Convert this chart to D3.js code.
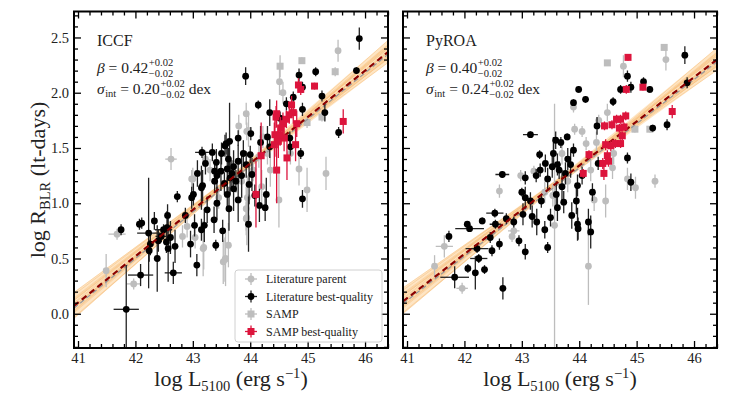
<!DOCTYPE html>
<html>
<head>
<meta charset="utf-8">
<script src="https://cdn.jsdelivr.net/npm/d3@7"></script>
<style>
  body { margin: 0; background: #fff; }
  svg { font-family: "Liberation Serif", "DejaVu Serif", serif; }
  text { white-space: pre; }
</style>
</head>
<body>
<svg id="chart" width="739" height="394"></svg>
<script>
// ---- data: [log L5100, log R, err L, err R] ----
const panelNames = ['ICCF', 'PyROA'];
const betaVals = ['0.42', '0.40'];
const sigmaVals = ['0.20', '0.24'];
const fitSlope = [0.42, 0.40];
const fitK = [1.36, 1.34];            // log R at log L = 44
const xMajor = [41, 42, 43, 44, 45, 46];
const yMajor = [0, 0.5, 1, 1.5, 2, 2.5];
const legendLabels = ['Literature parent', 'Literature best-quality', 'SAMP', 'SAMP best-quality'];

// posterior draws of the fit (slope, intercept at 44)
const iccfDrawSlope = [0.40, 0.41, 0.42, 0.43, 0.44, 0.39, 0.45, 0.42, 0.41, 0.43, 0.40, 0.44, 0.42, 0.38, 0.46, 0.41, 0.43, 0.42, 0.40, 0.44];
const iccfDrawK = [1.37, 1.35, 1.36, 1.38, 1.36, 1.37, 1.35, 1.34, 1.38, 1.35, 1.36, 1.37, 1.39, 1.36, 1.37, 1.33, 1.37, 1.36, 1.35, 1.38];
const pyroaDrawSlope = [0.38, 0.39, 0.40, 0.41, 0.42, 0.37, 0.43, 0.40, 0.39, 0.41, 0.38, 0.42, 0.40, 0.36, 0.44, 0.39, 0.41, 0.40, 0.38, 0.42];
const pyroaDrawK = [1.35, 1.33, 1.34, 1.36, 1.34, 1.35, 1.33, 1.32, 1.36, 1.33, 1.34, 1.35, 1.37, 1.34, 1.35, 1.31, 1.35, 1.34, 1.33, 1.36];

const iccfParent = [
  [45.53, 2.38, 0.02, 0.10], [44.51, 2.10, 0.02, 0.12], [44.57, 2.00, 0.02, 0.10],
  [43.93, 1.81, 0.02, 0.10], [43.94, 1.65, 0.02, 0.08], [43.97, 1.66, 0.02, 0.15],
  [42.62, 1.40, 0.10, 0.10], [43.22, 1.40, 0.02, 0.08], [42.98, 1.22, 0.02, 0.08],
  [41.68, 0.72, 0.15, 0.05], [41.49, 0.39, 0.03, 0.15], [41.97, 0.27, 0.12, 0.05],
  [43.04, 0.69, 0.02, 0.10], [43.19, 0.60, 0.02, 0.20], [42.90, 0.79, 0.05, 0.10],
  [43.57, 0.50, 0.05, 0.25], [43.53, 0.47, 0.02, 0.20], [43.93, 0.95, 0.02, 0.20],
  [43.93, 0.86, 0.02, 0.15], [44.50, 1.03, 0.02, 0.25], [44.99, 1.12, 0.02, 0.20],
  [45.32, 1.27, 0.02, 0.15], [44.85, 1.31, 0.02, 0.15], [44.35, 1.30, 0.02, 0.15],
  [44.15, 1.42, 0.02, 0.10], [43.94, 0.87, 0.02, 0.25], [43.18, 0.59, 0.02, 0.25],
  [43.56, 0.49, 0.02, 0.20], [43.70, 1.25, 0.02, 0.10], [43.85, 1.20, 0.02, 0.15],
  [44.05, 1.30, 0.02, 0.10], [43.95, 1.05, 0.02, 0.20], [44.20, 1.15, 0.02, 0.15],
  [43.30, 1.30, 0.02, 0.10], [43.45, 1.05, 0.02, 0.10], [43.00, 1.22, 0.02, 0.10],
  [42.82, 0.70, 0.02, 0.10], [43.62, 0.62, 0.02, 0.20], [44.30, 1.45, 0.02, 0.10],
  [44.70, 1.45, 0.02, 0.10], [44.22, 1.60, 0.02, 0.10], [43.80, 1.70, 0.02, 0.10]
];
const iccfSamp = [
  [44.90, 2.29, 0.02, 0.03], [44.52, 2.24, 0.02, 0.10], [45.48, 2.19, 0.02, 0.04],
  [45.25, 1.78, 0.02, 0.04], [44.99, 1.73, 0.02, 0.05]
];
const iccfBest = [
  [45.90, 2.49, 0.02, 0.10], [45.85, 2.20, 0.02, 0.03], [43.92, 2.15, 0.02, 0.08],
  [45.14, 2.19, 0.02, 0.04], [44.85, 2.16, 0.02, 0.06], [44.91, 2.05, 0.02, 0.05],
  [45.25, 1.97, 0.02, 0.05], [44.75, 1.96, 0.02, 0.05], [44.14, 1.89, 0.02, 0.04],
  [44.63, 1.90, 0.02, 0.06], [44.91, 1.85, 0.02, 0.06], [44.34, 1.82, 0.02, 0.12],
  [45.30, 1.82, 0.02, 0.08], [44.52, 1.77, 0.02, 0.06], [45.54, 1.64, 0.02, 0.05],
  [44.01, 1.63, 0.02, 0.06], [43.79, 1.59, 0.02, 0.07], [44.69, 1.59, 0.02, 0.06],
  [44.70, 1.51, 0.02, 0.08], [43.64, 1.56, 0.02, 0.35], [43.56, 1.52, 0.02, 0.10],
  [44.88, 1.45, 0.02, 0.05], [43.34, 1.46, 0.03, 0.08], [43.16, 1.46, 0.12, 0.05],
  [43.50, 1.45, 0.02, 0.10], [43.41, 1.37, 0.02, 0.12], [43.79, 1.38, 0.02, 0.15],
  [44.00, 1.44, 0.02, 0.08], [43.93, 1.35, 0.02, 0.12], [43.71, 1.33, 0.02, 0.15],
  [43.60, 1.31, 0.02, 0.20], [43.08, 1.27, 0.02, 0.12], [43.49, 1.29, 0.02, 0.18],
  [43.38, 1.29, 0.02, 0.10], [43.15, 1.14, 0.02, 0.20], [43.17, 1.16, 0.02, 0.14],
  [43.01, 1.08, 0.05, 0.10], [43.42, 1.25, 0.02, 0.15], [43.65, 1.23, 0.02, 0.15],
  [43.85, 1.25, 0.02, 0.20], [44.03, 1.26, 0.02, 0.15], [43.98, 1.17, 0.02, 0.18],
  [43.71, 1.13, 0.02, 0.20], [43.60, 1.08, 0.02, 0.15], [43.79, 1.03, 0.02, 0.20],
  [43.42, 1.00, 0.02, 0.15], [43.25, 0.94, 0.02, 0.12], [43.20, 0.80, 0.02, 0.15],
  [42.96, 0.63, 0.03, 0.12], [42.73, 1.06, 0.05, 0.05], [42.56, 0.89, 0.02, 0.10],
  [42.61, 0.69, 0.02, 0.15], [42.33, 0.84, 0.05, 0.08], [42.38, 0.50, 0.05, 0.30],
  [43.40, 0.62, 0.02, 0.05], [43.07, 0.44, 0.03, 0.10], [44.28, 1.08, 0.02, 0.15],
  [43.97, 0.81, 0.02, 0.25], [43.63, 0.95, 0.02, 0.20], [43.37, 0.85, 0.02, 0.12],
  [43.03, 0.80, 0.02, 0.10], [42.98, 1.05, 0.03, 0.10], [42.87, 0.89, 0.02, 0.07],
  [43.15, 0.76, 0.02, 0.10], [43.52, 0.75, 0.02, 0.10], [42.69, 0.61, 0.02, 0.15],
  [42.11, 0.82, 0.05, 0.05], [42.07, 0.81, 0.03, 0.05], [41.75, 0.76, 0.03, 0.05],
  [42.23, 0.73, 0.20, 0.50], [42.26, 0.63, 0.05, 0.10], [42.49, 0.76, 0.15, 0.05],
  [42.54, 0.65, 0.02, 0.10], [42.24, 0.57, 0.02, 0.10], [42.57, 0.59, 0.02, 0.30],
  [42.66, 0.37, 0.15, 0.10], [42.09, 0.35, 0.22, 0.10], [41.84, 0.04, 0.22, 0.40],
  [44.08, 1.07, 0.02, 0.10], [44.26, 0.96, 0.05, 0.12], [44.16, 0.98, 0.02, 0.15],
  [44.91, 1.04, 0.02, 0.08], [43.62, 1.40, 0.02, 0.10], [43.68, 1.27, 0.02, 0.12],
  [43.55, 1.18, 0.02, 0.10], [43.75, 1.20, 0.02, 0.10], [43.38, 1.20, 0.02, 0.10],
  [43.22, 1.36, 0.02, 0.10], [43.88, 1.45, 0.02, 0.12], [44.18, 1.55, 0.02, 0.15],
  [44.30, 1.60, 0.02, 0.10], [44.34, 1.51, 0.02, 0.10], [43.58, 1.54, 0.02, 0.10],
  [42.45, 0.70, 0.10, 0.05], [42.40, 0.66, 0.02, 0.10], [42.55, 0.78, 0.02, 0.15]
];
const iccfSampBest = [
  [44.84, 2.07, 0.02, 0.06], [44.88, 2.03, 0.02, 0.05], [45.12, 2.06, 0.02, 0.03],
  [44.72, 1.89, 0.02, 0.08], [44.46, 1.81, 0.02, 0.12], [44.45, 1.78, 0.02, 0.10],
  [44.75, 1.82, 0.02, 0.10], [44.63, 1.76, 0.02, 0.08], [44.81, 1.72, 0.02, 0.12],
  [44.57, 1.72, 0.02, 0.10], [44.53, 1.68, 0.02, 0.10], [44.43, 1.62, 0.02, 0.20],
  [44.59, 1.59, 0.02, 0.12], [44.49, 1.56, 0.02, 0.15], [44.79, 1.53, 0.02, 0.15],
  [44.42, 1.53, 0.02, 0.20], [44.64, 1.41, 0.02, 0.20], [44.19, 1.43, 0.02, 0.30],
  [44.46, 1.30, 0.02, 0.30], [44.10, 1.08, 0.02, 0.30], [45.62, 1.74, 0.02, 0.11],
  [44.68, 1.80, 0.02, 0.08], [44.52, 1.62, 0.02, 0.10]
];

const pyroaParent = [
  [44.77, 2.24, 0.02, 0.10], [45.51, 2.30, 0.02, 0.10], [43.90, 1.87, 0.02, 0.05],
  [44.49, 1.82, 0.02, 0.08], [43.92, 1.67, 0.02, 0.05], [44.05, 1.65, 0.02, 0.05],
  [44.34, 1.75, 0.02, 0.05], [44.12, 1.54, 0.02, 0.06], [43.21, 1.29, 0.02, 0.05],
  [42.98, 1.25, 0.02, 0.05], [42.61, 1.11, 0.02, 0.06], [43.54, 1.07, 0.02, 0.10],
  [44.26, 1.03, 0.02, 0.10], [44.46, 1.02, 0.02, 0.15], [44.58, 1.32, 0.02, 0.10],
  [44.84, 1.22, 0.02, 0.10], [44.98, 1.14, 0.02, 0.10], [45.32, 1.20, 0.02, 0.06],
  [42.86, 0.75, 0.10, 0.05], [42.83, 0.70, 0.02, 0.05], [41.65, 0.61, 0.15, 0.10],
  [41.48, 0.43, 0.02, 0.10], [41.96, 0.23, 0.10, 0.05], [44.16, 0.43, 0.02, 0.35],
  [43.57, 0.80, 0.02, 1.10], [43.70, 1.45, 0.02, 0.10], [43.80, 1.20, 0.02, 0.10],
  [44.20, 1.30, 0.02, 0.10], [43.40, 1.10, 0.02, 0.10], [44.60, 1.45, 0.02, 0.10],
  [44.30, 1.55, 0.02, 0.10]
];
const pyroaSamp = [
  [44.49, 2.27, 0.02, 0.02], [45.48, 2.41, 0.02, 0.02], [44.97, 1.67, 0.02, 0.03],
  [45.23, 1.67, 0.02, 0.03]
];
const pyroaBest = [
  [45.84, 2.34, 0.02, 0.08], [45.88, 2.09, 0.02, 0.05], [44.84, 2.15, 0.02, 0.05],
  [44.72, 2.03, 0.02, 0.04], [44.90, 2.05, 0.02, 0.05], [45.12, 2.10, 0.02, 0.04],
  [45.23, 2.03, 0.02, 0.03], [43.99, 2.03, 0.02, 0.03], [43.90, 1.91, 0.02, 0.03],
  [44.11, 1.94, 0.02, 0.03], [44.59, 1.92, 0.02, 0.04], [44.31, 1.70, 0.02, 0.08],
  [45.28, 1.68, 0.02, 0.03], [45.53, 1.71, 0.02, 0.05], [43.15, 1.62, 0.13, 0.03],
  [43.79, 1.60, 0.02, 0.03], [43.59, 1.57, 0.02, 0.08], [43.68, 1.55, 0.02, 0.05],
  [43.90, 1.48, 0.02, 0.06], [43.31, 1.44, 0.02, 0.04], [43.55, 1.45, 0.02, 0.15],
  [44.84, 1.41, 0.02, 0.05], [44.33, 1.36, 0.02, 0.06], [43.41, 1.36, 0.02, 0.08],
  [43.53, 1.33, 0.02, 0.10], [43.32, 1.30, 0.02, 0.06], [42.66, 1.26, 0.12, 0.03],
  [43.76, 1.27, 0.02, 0.10], [43.65, 1.30, 0.02, 0.08], [43.85, 1.35, 0.02, 0.12],
  [43.97, 1.16, 0.02, 0.10], [44.23, 1.10, 0.02, 0.08], [43.06, 1.23, 0.02, 0.06],
  [43.25, 1.25, 0.02, 0.06], [43.45, 1.22, 0.02, 0.10], [43.00, 1.10, 0.02, 0.04],
  [43.06, 1.05, 0.02, 0.10], [43.15, 1.02, 0.02, 0.08], [43.34, 1.02, 0.02, 0.06],
  [43.60, 1.08, 0.02, 0.12], [43.70, 1.15, 0.02, 0.15], [43.62, 0.96, 0.02, 0.12],
  [43.73, 1.01, 0.02, 0.10], [43.87, 0.89, 0.02, 0.12], [43.97, 0.81, 0.02, 0.15],
  [44.16, 0.83, 0.02, 0.12], [43.98, 0.77, 0.02, 0.10], [44.20, 0.74, 0.02, 0.15],
  [43.50, 0.87, 0.02, 0.08], [43.26, 0.83, 0.02, 0.12], [43.40, 0.76, 0.02, 0.08],
  [43.45, 0.60, 0.02, 0.05], [42.95, 0.66, 0.04, 0.05], [43.06, 0.56, 0.02, 0.07],
  [43.02, 0.90, 0.02, 0.10], [43.18, 0.88, 0.02, 0.10], [42.86, 0.83, 0.02, 0.05],
  [42.73, 0.86, 0.05, 0.05], [42.53, 0.91, 0.15, 0.04], [42.54, 0.81, 0.10, 0.04],
  [42.31, 0.84, 0.05, 0.03], [42.05, 0.81, 0.02, 0.03], [42.09, 0.77, 0.25, 0.03],
  [41.73, 0.70, 0.02, 0.05], [42.45, 0.69, 0.02, 0.05], [42.61, 0.63, 0.02, 0.05],
  [42.48, 0.57, 0.05, 0.05], [42.22, 0.59, 0.20, 0.04], [42.25, 0.50, 0.15, 0.04],
  [42.06, 0.41, 0.02, 0.04], [42.35, 0.40, 0.05, 0.04], [42.19, 0.37, 0.02, 0.15],
  [41.83, 0.33, 0.25, 0.10], [42.67, 0.23, 0.02, 0.10], [44.90, 1.19, 0.02, 0.08],
  [43.80, 1.40, 0.02, 0.10], [43.62, 1.35, 0.02, 0.10], [44.05, 1.25, 0.02, 0.08],
  [43.95, 1.02, 0.02, 0.12]
];
const pyroaSampBest = [
  [44.85, 2.32, 0.02, 0.03], [44.82, 2.03, 0.02, 0.04], [45.11, 2.05, 0.02, 0.03],
  [45.62, 1.83, 0.02, 0.06], [44.44, 1.70, 0.02, 0.04], [44.57, 1.71, 0.02, 0.04],
  [44.65, 1.76, 0.02, 0.04], [44.72, 1.76, 0.02, 0.04], [44.81, 1.79, 0.02, 0.04],
  [44.70, 1.68, 0.02, 0.04], [44.78, 1.69, 0.02, 0.04], [44.75, 1.61, 0.02, 0.04],
  [44.46, 1.53, 0.02, 0.05], [44.55, 1.52, 0.02, 0.05], [44.63, 1.54, 0.02, 0.04],
  [44.72, 1.54, 0.02, 0.04], [44.17, 1.44, 0.02, 0.04], [44.49, 1.43, 0.02, 0.05],
  [44.51, 1.38, 0.02, 0.05], [44.41, 1.36, 0.02, 0.05], [44.07, 1.27, 0.02, 0.04],
  [44.43, 1.27, 0.02, 0.06]
];

const panels = [
  {parent: iccfParent, samp: iccfSamp, best: iccfBest, sampBest: iccfSampBest,
   drawSlope: iccfDrawSlope, drawK: iccfDrawK},
  {parent: pyroaParent, samp: pyroaSamp, best: pyroaBest, sampBest: pyroaSampBest,
   drawSlope: pyroaDrawSlope, drawK: pyroaDrawK}
];

// ---- layout ----
const panelLeft = [74, 403];
const plotTop = 11.5, plotW = 314, plotH = 336.5;
const grey = '#bdbdbd', red = '#dc143c';

const svg = d3.select('#chart');
const x = d3.scaleLinear().domain([40.93, 46.4]).range([0, plotW]);
const y = d3.scaleLinear().domain([-0.31, 2.735]).range([plotH, 0]);

svg.append('defs').append('clipPath').attr('id', 'clip')
   .append('rect').attr('width', plotW).attr('height', plotH);

function drawSet(g, pts, fill, barColor, shape) {
  const s = g.append('g');
  s.selectAll('line.h').data(pts).join('line')
   .attr('x1', d => x(d[0] - d[2])).attr('x2', d => x(d[0] + d[2]))
   .attr('y1', d => y(d[1])).attr('y2', d => y(d[1]))
   .attr('stroke', barColor).attr('stroke-width', 1.3);
  s.selectAll('line.v').data(pts).join('line')
   .attr('x1', d => x(d[0])).attr('x2', d => x(d[0]))
   .attr('y1', d => y(d[1] - d[3])).attr('y2', d => y(d[1] + d[3]))
   .attr('stroke', barColor).attr('stroke-width', 1.3);
  if (shape === 'circle') {
    s.selectAll('circle').data(pts).join('circle')
     .attr('cx', d => x(d[0])).attr('cy', d => y(d[1])).attr('r', 3.4)
     .attr('fill', fill);
  } else {
    s.selectAll('rect').data(pts).join('rect')
     .attr('x', d => x(d[0]) - 3.5).attr('y', d => y(d[1]) - 3.5)
     .attr('width', 7).attr('height', 7).attr('fill', fill);
  }
}

function styleAxis(a, size) {
  a.select('.domain').remove();
  a.attr('font-family', null);
  a.selectAll('line').attr('stroke', '#000').attr('stroke-width', 1.3);
  a.selectAll('text').attr('font-family', '"Liberation Serif", serif')
   .attr('font-size', size).attr('fill', '#222');
}

function putText(g, x0, yb, str, size, italic) {
  const t = g.append('text').attr('x', x0).attr('y', yb).attr('font-size', size)
             .attr('fill', '#222').text(str);
  if (italic) t.attr('font-style', 'italic');
  return x0 + t.node().getComputedTextLength();
}

function putErr(g, x0, yb, size) {
  const w1 = putText(g, x0, yb - 6.5, '+0.02', size * 0.68);
  const w2 = putText(g, x0, yb + 4, '\u22120.02', size * 0.68);
  return Math.max(w1, w2);
}

const xMinor = d3.range(41, 46.41, 0.2).filter(v => Math.abs(v - Math.round(v)) > 0.01);
const yMinor = d3.range(-3, 28).map(i => i / 10).filter(v => Math.abs(v * 2 - Math.round(v * 2)) > 0.01);

panels.forEach((p, i) => {
  const g = svg.append('g').attr('transform', `translate(${panelLeft[i]},${plotTop})`);
  const plot = g.append('g').attr('clip-path', 'url(#clip)');

  // posterior band
  const ends = x.domain();
  const lo = ends.map(l => d3.min(p.drawSlope, (b, k) => p.drawK[k] + b * (l - 44)));
  const hi = ends.map(l => d3.max(p.drawSlope, (b, k) => p.drawK[k] + b * (l - 44)));
  const mid = [43.6];
  const loMid = d3.min(p.drawSlope, (b, k) => p.drawK[k] + b * (mid[0] - 44));
  const hiMid = d3.max(p.drawSlope, (b, k) => p.drawK[k] + b * (mid[0] - 44));
  const poly = [[ends[0], lo[0]], [mid[0], loMid], [ends[1], lo[1]],
                [ends[1], hi[1]], [mid[0], hiMid], [ends[0], hi[0]]];
  plot.append('path')
      .attr('d', d3.line().x(d => x(d[0])).y(d => y(d[1]))(poly) + 'Z')
      .attr('fill', '#fddcb0').attr('opacity', 0.75);
  plot.selectAll('line.draw').data(p.drawSlope).join('line')
      .attr('x1', x(ends[0])).attr('x2', x(ends[1]))
      .attr('y1', (b, k) => y(p.drawK[k] + b * (ends[0] - 44)))
      .attr('y2', (b, k) => y(p.drawK[k] + b * (ends[1] - 44)))
      .attr('stroke', '#f7bf7c').attr('stroke-width', 0.8).attr('opacity', 0.6);

  drawSet(plot, p.parent, grey, grey, 'circle');
  drawSet(plot, p.samp, grey, grey, 'square');

  // fit lines
  const fit = l => fitK[i] + fitSlope[i] * (l - 44);
  plot.append('line')
      .attr('x1', x(ends[0])).attr('x2', x(ends[1]))
      .attr('y1', y(fit(ends[0]) - 0.02)).attr('y2', y(fit(ends[1]) - 0.02))
      .attr('stroke', '#9a9a9a').attr('stroke-width', 1.3).attr('stroke-dasharray', '5,3');

  drawSet(plot, p.best, '#000', '#222', 'circle');

  plot.append('line')
      .attr('x1', x(ends[0])).attr('x2', x(ends[1]))
      .attr('y1', y(fit(ends[0]))).attr('y2', y(fit(ends[1])))
      .attr('stroke', '#8b0000').attr('stroke-width', 2.2).attr('stroke-dasharray', '6,4');

  drawSet(plot, p.sampBest, red, red, 'square');

  // axes with inward ticks on all sides
  const ax = [
    [d3.axisBottom(x).tickValues(xMajor).tickSize(-7).tickPadding(5).tickFormat(d3.format('d')), `translate(0,${plotH})`, 14.5],
    [d3.axisBottom(x).tickValues(xMinor).tickSize(-4).tickFormat(''), `translate(0,${plotH})`],
    [d3.axisTop(x).tickValues(xMajor).tickSize(-7).tickFormat(''), null],
    [d3.axisTop(x).tickValues(xMinor).tickSize(-4).tickFormat(''), null],
    [d3.axisLeft(y).tickValues(yMajor).tickSize(-7).tickPadding(5)
       .tickFormat(i === 0 ? d3.format('.1f') : ''), null, 14.5],
    [d3.axisLeft(y).tickValues(yMinor).tickSize(-4).tickFormat(''), null],
    [d3.axisRight(y).tickValues(yMajor).tickSize(-7).tickFormat(''), `translate(${plotW},0)`],
    [d3.axisRight(y).tickValues(yMinor).tickSize(-4).tickFormat(''), `translate(${plotW},0)`]
  ];
  ax.forEach(([a, tr, size]) => {
    const ag = g.append('g');
    if (tr) ag.attr('transform', tr);
    ag.call(a);
    styleAxis(ag, size || 10);
  });

  g.append('rect').attr('width', plotW).attr('height', plotH)
   .attr('fill', 'none').attr('stroke', '#000').attr('stroke-width', 2);

  // annotations
  const tx = 23;
  putText(g, tx, 34, panelNames[i], 16);
  let cx = putText(g, tx, 61, '\u03b2', 15.5, true);
  cx = putText(g, cx, 61, ' = ' + betaVals[i], 15.5);
  putErr(g, cx + 0.5, 61, 15.5);
  cx = putText(g, tx, 82, '\u03c3', 15.5, true);
  cx = putText(g, cx + 0.5, 85.5, 'int', 10.5);
  cx = putText(g, cx, 82, ' = ' + sigmaVals[i], 15.5);
  cx = putErr(g, cx + 0.5, 82, 15.5);
  putText(g, cx, 82, ' dex', 15.5);

  // x label
  const xl = g.append('text').attr('x', plotW / 2).attr('y', 374)
              .attr('text-anchor', 'middle').attr('font-size', 22).attr('fill', '#222');
  xl.append('tspan').text('log L');
  xl.append('tspan').attr('font-size', 14.5).attr('dy', 5).text('5100');
  xl.append('tspan').attr('dy', -5).text(' (erg s');
  xl.append('tspan').attr('font-size', 14.5).attr('dy', -8).text('\u22121');
  xl.append('tspan').attr('dy', 8).text(')');

  if (i === 0) {
    // legend
    const lg = g.append('g').attr('transform', `translate(${235 - panelLeft[0]},${270 - plotTop})`);
    lg.append('rect').attr('width', 147).attr('height', 72).attr('rx', 3)
      .attr('fill', '#fff').attr('fill-opacity', 0.8)
      .attr('stroke', '#d0d0d0').attr('stroke-width', 1);
    const handles = [
      {fill: grey, bar: grey, shape: 'circle'},
      {fill: '#000', bar: '#222', shape: 'circle'},
      {fill: grey, bar: grey, shape: 'square'},
      {fill: red, bar: red, shape: 'square'}
    ];
    legendLabels.forEach((lab, k) => {
      const yy = 9 + k * 17.5;
      const h = handles[k];
      lg.append('line').attr('x1', 10).attr('x2', 22).attr('y1', yy).attr('y2', yy)
        .attr('stroke', h.bar).attr('stroke-width', 1.3);
      lg.append('line').attr('x1', 16).attr('x2', 16).attr('y1', yy - 6).attr('y2', yy + 6)
        .attr('stroke', h.bar).attr('stroke-width', 1.3);
      if (h.shape === 'circle') {
        lg.append('circle').attr('cx', 16).attr('cy', yy).attr('r', 3.4).attr('fill', h.fill);
      } else {
        lg.append('rect').attr('x', 12.5).attr('y', yy - 3.5).attr('width', 7).attr('height', 7)
          .attr('fill', h.fill);
      }
      lg.append('text').attr('x', 31).attr('y', yy + 4).attr('font-size', 12)
        .attr('fill', '#222').text(lab);
    });
  }
});

// y label
const yl = svg.append('text').attr('transform', 'translate(45,180) rotate(-90)')
              .attr('text-anchor', 'middle').attr('font-size', 22).attr('fill', '#222');
yl.append('tspan').text('log R');
yl.append('tspan').attr('font-size', 14.5).attr('dy', 5).text('BLR');
yl.append('tspan').attr('dy', -5).text(' (lt-days)');
</script>
</body>
</html>
